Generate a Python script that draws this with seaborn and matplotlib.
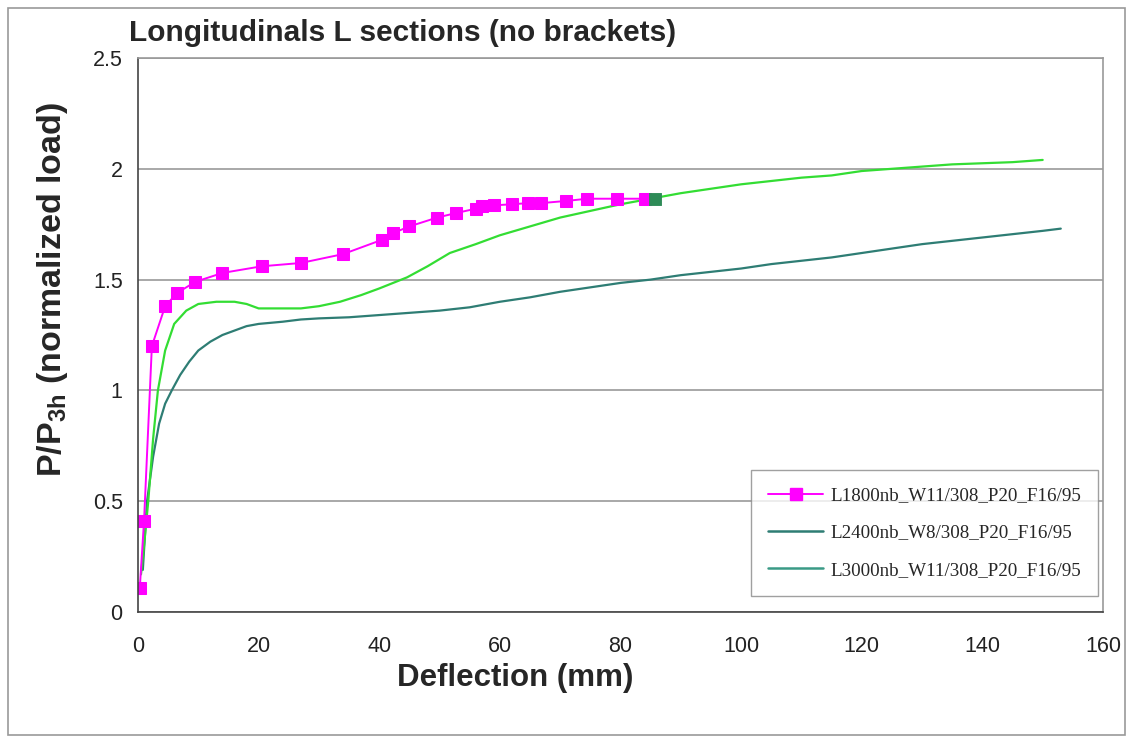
import numpy as np
import pandas as pd
import matplotlib
matplotlib.use("Agg")
import matplotlib.pyplot as plt
from matplotlib.lines import Line2D
from matplotlib.patches import Rectangle
import seaborn as sns

# ---- data ----
l1800_x = [0.3, 1.0, 2.3, 4.5, 6.5, 9.5, 14.0, 20.5, 27.0, 34.0, 40.5, 42.3, 45.0, 49.6,
           52.7, 56.0, 57.0, 59.0, 62.0, 64.6, 66.8, 71.0, 74.5, 79.5, 84.0]
l1800_y = [0.11, 0.41, 1.20, 1.38, 1.44, 1.49, 1.53, 1.56, 1.575, 1.615, 1.68, 1.71, 1.74, 1.78,
           1.80, 1.82, 1.83, 1.835, 1.84, 1.845, 1.845, 1.855, 1.865, 1.865, 1.865]
end_x = [85.7]
end_y = [1.865]

l3000_x = [0.5, 1.0, 1.7, 2.5, 3.3, 4.5, 6.0, 8.0, 10.0, 13.0, 16.0, 18.0, 20.0, 24.0, 27.0, 30.0,
           33.5, 37.0, 40.0, 44.6, 48.0, 51.7, 56.0, 60.0, 65.0, 70.0, 75.0, 80.0, 85.0, 90.0,
           95.0, 100.0, 105.0, 110.0, 115.0, 120.0, 125.0, 130.0, 135.0, 140.0, 145.0, 150.0]
l3000_y = [0.17, 0.30, 0.50, 0.78, 1.00, 1.18, 1.30, 1.36, 1.39, 1.40, 1.40, 1.39, 1.37, 1.37, 1.37, 1.38,
           1.40, 1.43, 1.46, 1.51, 1.56, 1.62, 1.66, 1.70, 1.74, 1.78, 1.81, 1.84, 1.865, 1.89,
           1.91, 1.93, 1.945, 1.96, 1.97, 1.99, 2.00, 2.01, 2.02, 2.025, 2.03, 2.04]

l2400_x = [0.8, 1.5, 2.5, 3.5, 4.5, 5.6, 7.0, 8.5, 10.0, 12.0, 14.0, 16.0, 18.0, 20.0, 24.0, 27.0,
           30.0, 35.0, 40.0, 45.0, 50.0, 55.0, 60.0, 65.0, 70.0, 75.0, 80.0, 85.0, 90.0, 95.0,
           100.0, 105.0, 110.0, 115.0, 120.0, 125.0, 130.0, 135.0, 140.0, 145.0, 150.0, 153.0]
l2400_y = [0.19, 0.50, 0.70, 0.85, 0.94, 1.00, 1.07, 1.13, 1.18, 1.22, 1.25, 1.27, 1.29, 1.30, 1.31, 1.32,
           1.325, 1.33, 1.34, 1.35, 1.36, 1.375, 1.40, 1.42, 1.445, 1.465, 1.485, 1.50, 1.52, 1.535,
           1.55, 1.57, 1.585, 1.60, 1.62, 1.64, 1.66, 1.675, 1.69, 1.705, 1.72, 1.73]

labels = ["L1800nb_W11/308_P20_F16/95", "L2400nb_W8/308_P20_F16/95", "L3000nb_W11/308_P20_F16/95"]
x_ticks = [0, 20, 40, 60, 80, 100, 120, 140, 160]
y_ticks = [0, 0.5, 1, 1.5, 2, 2.5]
y_tick_labels = ["0", "0.5", "1", "1.5", "2", "2.5"]

# ---- style ----
sns.set_style("white")
plt.rcParams["font.family"] = ["Liberation Sans", "DejaVu Sans"]
plt.rcParams["mathtext.fontset"] = "custom"
plt.rcParams["mathtext.bf"] = "Liberation Sans:bold"
plt.rcParams["mathtext.rm"] = "Liberation Sans"

W, H = 1135, 742
fig = plt.figure(figsize=(W / 100, H / 100), dpi=100)
ax = fig.add_axes([138 / W, 1 - 612 / H, (1103 - 138) / W, (612 - 58) / H])

magenta = "#FF00FF"
lime = "#33DD33"
teal = "#2E7D74"
teal2 = "#3A9A86"

sns.lineplot(x=l2400_x, y=l2400_y, ax=ax, color=teal, linewidth=1.6, sort=False, estimator=None)
sns.lineplot(x=l3000_x, y=l3000_y, ax=ax, color=lime, linewidth=1.6, sort=False, estimator=None)
sns.lineplot(x=l1800_x, y=l1800_y, ax=ax, color=magenta, linewidth=1.4, marker="s", markersize=8,
             markeredgecolor=magenta, sort=False, estimator=None)
sns.scatterplot(x=end_x, y=end_y, ax=ax, color="#2E8B57", marker="s", s=64, edgecolor="#2E8B57", zorder=5)

ax.set_xlim(0, 160)
ax.set_ylim(0, 2.5)
ax.set_xticks(x_ticks)
ax.set_xticklabels([str(t) for t in x_ticks])
ax.set_yticks(y_ticks)
ax.set_yticklabels(y_tick_labels)
ax.tick_params(axis="both", labelsize=15.5, direction="out", length=5, width=1, color="#555555", colors="#222222")
ax.tick_params(axis="x", pad=12)
ax.tick_params(axis="y", pad=6)
ax.grid(axis="y", color="#999999", linewidth=1.2)
ax.grid(axis="x", visible=False)
ax.set_axisbelow(True)
for s in ["top", "right"]:
    ax.spines[s].set_color("#999999")
    ax.spines[s].set_linewidth(1.2)
for s in ["left", "bottom"]:
    ax.spines[s].set_color("#444444")
    ax.spines[s].set_linewidth(1.2)

ax.set_xlabel("Deflection (mm)", fontsize=22.5, fontweight="bold", va="center", ha="center")
ax.xaxis.set_label_coords((515 - 138) / 965, -(678 - 612) / 554)
ax.set_ylabel(r"P/P$_\mathbf{3h}$ (normalized load)", fontsize=24.5, fontweight="bold", va="center", ha="center")
ax.yaxis.set_label_coords(-(138 - 53) / 965, (612 - 289) / 554)

fig.text(129 / W, 1 - 33 / H, "Longitudinals L sections (no brackets)", fontsize=21.5,
         fontweight="bold", va="center", ha="left")

handles = [
    Line2D([], [], color=magenta, linewidth=1.4, marker="s", markersize=9, markeredgecolor=magenta),
    Line2D([], [], color=teal, linewidth=1.8),
    Line2D([], [], color=teal2, linewidth=1.8),
]
leg = ax.legend(handles, labels, loc="lower right", bbox_to_anchor=(1 - 5 / 965, 16 / 554),
                prop={"family": "Liberation Serif", "size": 13.7}, frameon=True, fancybox=False,
                edgecolor="#888888", handlelength=2.9, labelspacing=1.05, borderpad=0.9,
                handletextpad=0.35, borderaxespad=0)
leg.get_frame().set_linewidth(1.0)

fig.patches.append(Rectangle((8 / W, 1 - 735 / H), 1117 / W, 727 / H, transform=fig.transFigure,
                             fill=False, edgecolor="#999999", linewidth=1.2))

fig.savefig("out.png", dpi=100)
